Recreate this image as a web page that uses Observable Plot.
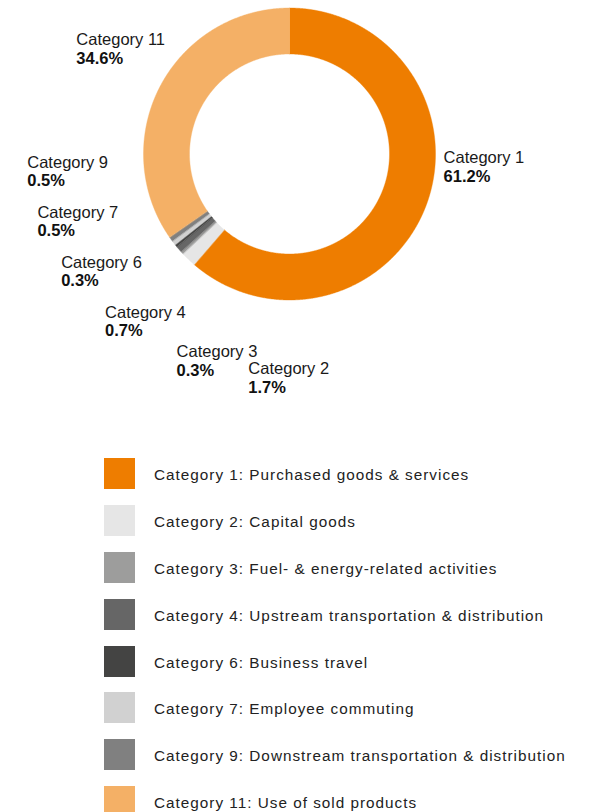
<!DOCTYPE html>
<html>
<head>
<meta charset="utf-8">
<script src="https://cdn.jsdelivr.net/npm/d3@7"></script>
<script src="https://cdn.jsdelivr.net/npm/@observablehq/plot@0.6"></script>
<style>
  html, body { margin: 0; padding: 0; background: #fff; overflow: hidden; }
  body { font-family: "Liberation Sans", Arial, sans-serif; width: 598px; }
  #chart svg { display: block; }
  #legend { padding-top: 20px; }
  .row { display: flex; align-items: center; height: 46.9px; }
  .sw { width: 31px; height: 31px; margin-left: 104px; flex: none; }
  .lab { margin-left: 19px; font-size: 15.3px; letter-spacing: 1px; color: #222; padding-top: 3px; white-space: nowrap; }
</style>
</head>
<body>
<div id="chart"></div>
<div id="legend"></div>
<script>
// ---- data ----
const categories = ["Category 1", "Category 2", "Category 3", "Category 4", "Category 6", "Category 7", "Category 9", "Category 11"];
const descriptions = [
  "Purchased goods & services",
  "Capital goods",
  "Fuel- & energy-related activities",
  "Upstream transportation & distribution",
  "Business travel",
  "Employee commuting",
  "Downstream transportation & distribution",
  "Use of sold products"
];
const shares = [61.2, 1.7, 0.3, 0.7, 0.3, 0.5, 0.5, 34.6];
const colors = ["#ee7d00", "#e6e6e6", "#9d9d9c", "#666666", "#444443", "#d1d1d1", "#808080", "#f4b066"];

// ---- layout constants ----
const W = 598, H = 430, CX = 289, CY = 153.5, R = 146;
const INNER = 100 / R;
const FS = 16.5;                 // label font size
const DY1 = -4.5, DY2 = 14;      // baselines of the two label lines relative to label centre
const rad = d => d * Math.PI / 180;

// ---- slice geometry (in units of outer radius) ----
const total = d3.sum(shares);
let acc = 0;
const slices = categories.map((c, i) => {
  const a0 = acc / total * 360;
  acc += shares[i];
  const a1 = acc / total * 360;
  return {c, a0, a1, mid: (a0 + a1) / 2, share: shares[i]};
});

const ring = [];
for (const s of slices) {
  const n = Math.max(2, Math.ceil((s.a1 - s.a0) / 0.25));
  for (let k = 0; k <= n; k++) {
    const a = rad(s.a0 + (s.a1 - s.a0) * k / n);
    ring.push({c: s.c, x: Math.sin(a), y: Math.cos(a)});
  }
  for (let k = n; k >= 0; k--) {
    const a = rad(s.a0 + (s.a1 - s.a0) * k / n);
    ring.push({c: s.c, x: INNER * Math.sin(a), y: INNER * Math.cos(a)});
  }
}

// ---- label placement ----
const ctx = document.createElement("canvas").getContext("2d");
const tw = (t, bold) => { ctx.font = (bold ? "bold " : "") + FS + "px 'Liberation Sans', Arial"; return ctx.measureText(t).width; };

const LR_SMALL = 1.50, LR_BIG = 1.36, BIG_ROT = 4;
const BOX_W = 72, BOX_H = 50, ROT = -7.5;
const labels = slices.map(s => {
  let ang = s.mid;
  if (s.a1 - s.a0 > 180) ang = (s.a0 <= 90 && s.a1 >= 90) ? 90 : 270;
  const small = s.share < 5;
  return {...s, ang: small ? ang : ang + BIG_ROT, small, r: small ? LR_SMALL : LR_BIG, pct: d3.format(".1f")(s.share) + "%"};
});
// spread small-slice labels along an arc so that their boxes do not collide
const small = labels.filter(d => d.small).sort((a, b) => a.mid - b.mid);
const cAng = d3.mean(small, d => d.mid) + ROT;
small.forEach((d, i) => { d.ang = cAng + (i - (small.length - 1) / 2) * 17; });
for (let it = 0; it < 40; it++) {
  const seps = [];
  for (let i = 0; i < small.length - 1; i++) {
    const m = rad((small[i].ang + small[i + 1].ang) / 2);
    const s = Math.min(BOX_W / Math.max(1e-6, Math.abs(Math.cos(m))), BOX_H / Math.max(1e-6, Math.abs(Math.sin(m))));
    seps.push(s / (LR_SMALL * R) * 180 / Math.PI);
  }
  let a = cAng - d3.sum(seps) / 2;
  small.forEach((d, i) => { d.ang = a; if (i < seps.length) a += seps[i]; });
}
// push a label outward while its text lines overlap the next label's lines
function lineBoxes(d) {
  const cx = CX + d.r * R * Math.sin(rad(d.ang)), cy = CY - d.r * R * Math.cos(rad(d.ang));
  const left = cx - 44, b1 = cy + DY1, b2 = cy + DY2;
  return [[left, b1 - 12.5, left + tw(d.c), b1 + 4], [left, b2 - 12.5, left + tw(d.pct, true), b2 + 4]];
}
const hit = (p, q) => p[0] < q[2] && q[0] < p[2] && p[1] < q[3] && q[1] < p[3];
for (let i = small.length - 2; i >= 0; i--) {
  for (let k = 0; k < 80; k++) {
    const A = lineBoxes(small[i]), B = lineBoxes(small[i + 1]);
    if (!A.some(p => B.some(q => hit(p, q)))) break;
    small[i].r += 1 / R;
  }
}
labels.forEach(d => {
  d.lx = d.r * Math.sin(rad(d.ang));
  d.ly = d.r * Math.cos(rad(d.ang));
});

const chart = Plot.plot({
  width: W,
  height: H,
  margin: 0,
  x: {domain: [-CX / R, (W - CX) / R], range: [0, W], axis: null},
  y: {domain: [CY / R, -(H - CY) / R], range: [0, H], axis: null},
  color: {domain: categories, range: colors},
  style: {fontFamily: "'Liberation Sans', Arial, sans-serif", background: "white"},
  marks: [
    Plot.line(ring, {x: "x", y: "y", z: "c", fill: "c", stroke: "c", strokeWidth: 0.4, curve: "linear-closed"}),
    Plot.text(labels, {x: "lx", y: "ly", text: "c", textAnchor: "start", lineAnchor: "bottom", dx: -44, dy: DY1, fontSize: FS, fill: "#1a1a1a"}),
    Plot.text(labels, {x: "lx", y: "ly", text: "pct", textAnchor: "start", lineAnchor: "bottom", dx: -44, dy: DY2, fontSize: FS, fontWeight: "bold", fill: "#111"})
  ]
});
document.getElementById("chart").appendChild(chart);

// ---- legend ----
const legend = document.getElementById("legend");
categories.forEach((c, i) => {
  const row = document.createElement("div");
  row.className = "row";
  const sw = document.createElement("div");
  sw.className = "sw";
  sw.style.background = colors[i];
  const lab = document.createElement("div");
  lab.className = "lab";
  lab.textContent = c + ": " + descriptions[i];
  row.appendChild(sw);
  row.appendChild(lab);
  legend.appendChild(row);
});
</script>
</body>
</html>
